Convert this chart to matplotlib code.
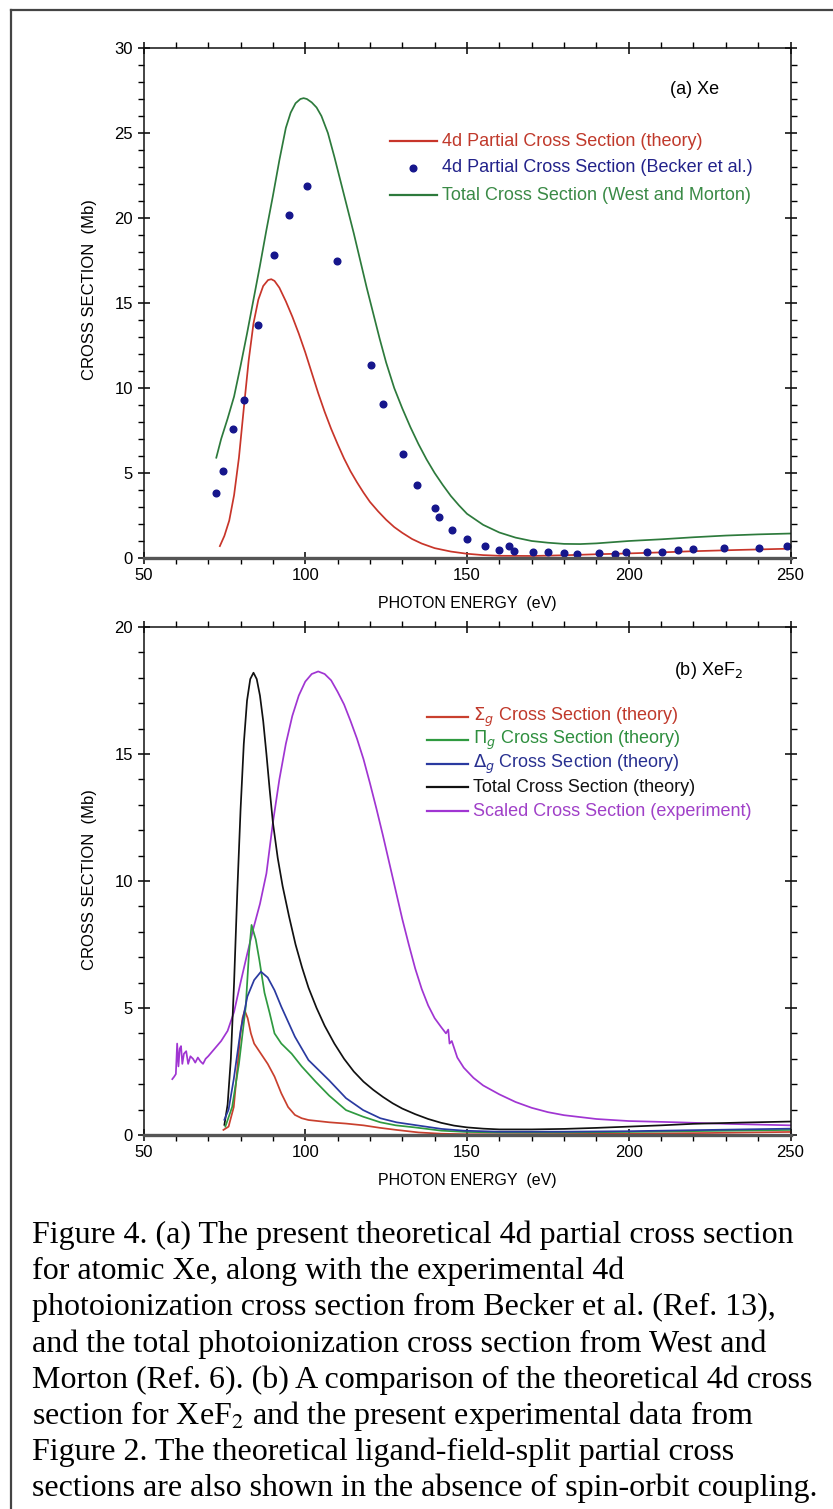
import matplotlib
matplotlib.use("Agg")
import matplotlib.pyplot as plt
from matplotlib.lines import Line2D
from matplotlib.ticker import MultipleLocator
from matplotlib import font_manager

# ---------------- (a) Xe ----------------
xe_theory_E = [73.6, 75.0, 76.5, 78.0, 79.5, 81.0, 82.5, 84.0, 85.5, 87.0, 88.5, 89.5,
               90.5, 92.0, 94.0, 96.0, 98.0, 100.0, 102.0, 104.0, 106.0, 108.0, 110.0,
               112.0, 114.0, 116.0, 118.0, 120.0, 122.5, 125.0, 127.5, 130.0, 133.0,
               136.0, 140.0, 145.0, 150.0, 155.0, 160.0, 170.0, 180.0, 190.0, 200.0,
               210.0, 220.0, 235.0, 250.0]
xe_theory_S = [0.7, 1.3, 2.2, 3.7, 5.9, 8.8, 11.6, 13.8, 15.2, 16.0, 16.35, 16.4,
               16.3, 15.9, 15.1, 14.2, 13.2, 12.1, 10.9, 9.7, 8.6, 7.6, 6.7,
               5.85, 5.1, 4.45, 3.85, 3.3, 2.75, 2.25, 1.82, 1.48, 1.12,
               0.85, 0.58, 0.38, 0.25, 0.17, 0.13, 0.12, 0.16, 0.22, 0.27,
               0.33, 0.4, 0.48, 0.55]

becker_E = [72.5, 74.7, 77.6, 81.0, 85.3, 90.4, 94.9, 100.4, 109.9, 120.2, 124.1,
            130.3, 134.4, 140.0, 141.4, 145.3, 150.0, 155.6, 160.0, 163.1, 164.6,
            170.4, 175.0, 179.9, 184.0, 190.7, 195.6, 199.0, 205.6, 210.4, 215.1,
            220.0, 229.3, 240.3, 249.0]
becker_S = [3.8, 5.1, 7.6, 9.3, 13.7, 17.8, 20.2, 21.9, 17.45, 11.35, 9.07,
            6.1, 4.3, 2.97, 2.4, 1.63, 1.12, 0.71, 0.49, 0.69, 0.41,
            0.33, 0.33, 0.3, 0.22, 0.3, 0.26, 0.33, 0.37, 0.37, 0.49,
            0.53, 0.59, 0.59, 0.71]

west_E = [72.5, 74.0, 76.0, 78.0, 80.0, 82.0, 84.0, 86.0, 88.0, 90.0, 92.0, 94.0,
          95.5, 97.0, 98.5, 99.5, 100.5, 102.0, 103.5, 105.0, 107.0, 109.0, 111.0,
          113.0, 115.0, 117.0, 119.0, 121.0, 123.0, 125.0, 127.5, 130.0, 132.5,
          135.0, 137.5, 140.0, 142.5, 145.0, 147.5, 150.0, 155.0, 160.0, 165.0,
          170.0, 175.0, 180.0, 185.0, 190.0, 195.0, 200.0, 210.0, 220.0, 230.0,
          240.0, 250.0]
west_S = [5.9, 7.0, 8.2, 9.5, 11.3, 13.2, 15.2, 17.2, 19.3, 21.3, 23.4, 25.3,
          26.2, 26.75, 27.0, 27.05, 27.0, 26.8, 26.5, 26.0, 25.0, 23.6, 22.1,
          20.6, 19.1, 17.5, 15.9, 14.4, 12.9, 11.5, 10.0, 8.8, 7.7,
          6.7, 5.8, 5.0, 4.3, 3.65, 3.1, 2.6, 1.95, 1.5, 1.2,
          1.0, 0.9, 0.83, 0.82, 0.86, 0.93, 1.0, 1.1, 1.22, 1.32,
          1.39, 1.44]

# ---------------- (b) XeF2 ----------------
sigma_E = [74.7, 76.3, 77.9, 79.0, 79.8, 80.6, 81.3, 82.2, 83.2, 84.2, 86.3, 88.4,
           90.5, 92.6, 94.7, 96.8, 98.9, 101.0, 107.4, 112.6, 118.0, 123.2, 128.2,
           135.1, 142.1, 150.0, 160.0, 180.0, 200.0, 225.0, 250.0]
sigma_S = [0.2, 0.33, 1.1, 2.6, 3.8, 4.6, 4.9, 4.6, 4.0, 3.6, 3.2, 2.8,
           2.3, 1.64, 1.1, 0.79, 0.66, 0.59, 0.5, 0.45, 0.38, 0.28, 0.2,
           0.1, 0.05, 0.03, 0.03, 0.04, 0.05, 0.08, 0.12]

pi_E = [75.3, 77.4, 79.5, 81.6, 82.6, 83.4, 84.7, 85.8, 87.4, 89.0, 90.5, 92.6,
        95.8, 98.9, 103.2, 107.4, 112.6, 117.9, 123.2, 128.0, 133.8, 142.1, 150.0,
        160.0, 180.0, 200.0, 225.0, 250.0]
pi_S = [0.33, 1.1, 2.8, 5.05, 7.15, 8.27, 7.7, 6.9, 5.6, 4.8, 4.0, 3.6,
        3.2, 2.7, 2.1, 1.55, 0.98, 0.72, 0.5, 0.38, 0.3, 0.17, 0.12,
        0.1, 0.1, 0.12, 0.16, 0.2]

delta_E = [75.0, 76.3, 77.9, 80.0, 82.1, 84.2, 86.3, 88.4, 90.5, 92.6, 96.8, 101.0,
           107.4, 112.6, 117.9, 123.2, 128.2, 135.1, 142.1, 149.0, 160.0, 180.0,
           200.0, 225.0, 250.0]
delta_S = [0.6, 1.0, 2.2, 4.1, 5.45, 6.1, 6.43, 6.2, 5.7, 5.05, 3.87, 2.95,
           2.15, 1.45, 0.98, 0.66, 0.5, 0.37, 0.24, 0.17, 0.13, 0.13,
           0.15, 0.2, 0.25]

total_E = [75.0, 76.0, 77.0, 78.0, 79.0, 80.0, 81.0, 82.0, 83.0, 84.0, 85.0, 86.0,
           87.0, 88.0, 89.0, 90.0, 91.5, 93.0, 95.0, 97.0, 99.0, 101.0, 103.5,
           106.0, 109.0, 112.0, 115.0, 118.0, 121.0, 124.0, 127.0, 130.0, 134.0,
           138.0, 142.0, 146.0, 150.0, 155.0, 160.0, 170.0, 180.0, 190.0, 200.0,
           210.0, 220.0, 235.0, 250.0]
total_S = [0.4, 1.2, 3.0, 6.0, 9.6, 12.8, 15.4, 17.1, 17.95, 18.2, 17.95, 17.3,
           16.3, 15.0, 13.6, 12.3, 10.9, 9.8, 8.6, 7.5, 6.6, 5.8, 5.0,
           4.3, 3.6, 3.0, 2.5, 2.1, 1.78, 1.5, 1.25, 1.04, 0.82,
           0.63, 0.48, 0.37, 0.3, 0.25, 0.22, 0.22, 0.24, 0.28, 0.33,
           0.38, 0.44, 0.49, 0.53]

exp_E = [58.9, 59.5, 60.0, 60.4, 60.8, 61.2, 61.6, 62.0, 62.5, 63.2, 63.8, 64.5,
         65.3, 66.0, 66.8, 67.6, 68.4, 69.2, 70.0, 72.0, 74.0, 76.0, 78.0, 80.0,
         82.0, 84.0, 86.0, 88.0, 90.0, 92.0, 94.0, 96.0, 98.0, 100.0, 102.0, 104.0,
         106.0, 108.0, 110.0, 112.0, 114.0, 116.0, 118.0, 120.0, 122.0, 124.0, 126.0,
         128.0, 130.0, 132.0, 134.0, 136.0, 138.0, 140.0, 142.0, 143.5, 144.2, 144.6,
         145.3, 147.0, 149.0, 152.0, 155.0, 160.0, 165.0, 170.0, 175.0, 180.0, 190.0,
         200.0, 215.0, 230.0, 250.0]
exp_S = [2.2, 2.3, 2.4, 3.6, 2.7, 3.4, 3.5, 2.8, 3.2, 3.3, 2.8, 3.1,
         3.0, 2.85, 3.05, 2.9, 2.8, 3.0, 3.1, 3.4, 3.7, 4.1, 4.85, 6.0,
         7.1, 8.15, 9.1, 10.3, 12.3, 14.0, 15.4, 16.5, 17.3, 17.85, 18.15, 18.25,
         18.15, 17.9, 17.45, 16.95, 16.3, 15.6, 14.8, 13.85, 12.85, 11.8, 10.7,
         9.6, 8.5, 7.5, 6.55, 5.75, 5.1, 4.6, 4.25, 4.0, 4.15, 3.6,
         3.7, 3.05, 2.65, 2.25, 1.95, 1.6, 1.3, 1.07, 0.9, 0.78, 0.63,
         0.55, 0.5, 0.44, 0.38]

caption_lines = [
    "Figure 4. (a) The present theoretical 4d partial cross section",
    "for atomic Xe, along with the experimental 4d",
    "photoionization cross section from Becker et al. (Ref. 13),",
    "and the total photoionization cross section from West and",
    "Morton (Ref. 6). (b) A comparison of the theoretical 4d cross",
    "section for XeF$_2$ and the present experimental data from",
    "Figure 2. The theoretical ligand-field-split partial cross",
    "sections are also shown in the absence of spin-orbit coupling.",
]

# ---------------- figure ----------------
W, H, DPI = 833, 1509, 100
installed = {f.name for f in font_manager.fontManager.ttflist}
if "Liberation Sans Narrow" in installed:
    NARROW, NSIZE = "Liberation Sans Narrow", 13.5
else:
    NARROW, NSIZE = "Liberation Sans", 12
SANS = "Liberation Sans"

fig = plt.figure(figsize=(W / DPI, H / DPI), dpi=DPI)
fig.patch.set_facecolor("white")

# page frame (top and left edges)
fig.add_artist(Line2D([11 / W, 1.0], [1 - 10 / H, 1 - 10 / H], transform=fig.transFigure,
                      color="#444444", lw=1.6))
fig.add_artist(Line2D([11 / W, 11 / W], [1 - 10 / H, 0.0], transform=fig.transFigure,
                      color="#444444", lw=1.6))

AX_L, AX_R = 143.5, 790.5


def px_axes(top, bottom):
    return fig.add_axes([AX_L / W, 1 - bottom / H, (AX_R - AX_L) / W, (bottom - top) / H])


def style(ax, ymax, top, bottom, ylab_center):
    hpx = bottom - top
    ax.set_xlim(50, 250)
    ax.set_ylim(0, ymax)
    ax.xaxis.set_major_locator(MultipleLocator(50))
    ax.xaxis.set_minor_locator(MultipleLocator(10))
    ax.yaxis.set_major_locator(MultipleLocator(5))
    ax.yaxis.set_minor_locator(MultipleLocator(1))
    ax.tick_params(which="major", direction="inout", length=9, width=1.1,
                   top=True, right=True, labelsize=NSIZE, pad=3)
    ax.tick_params(which="minor", direction="out", length=4, width=1.0,
                   top=True, right=True)
    for lab in ax.get_xticklabels() + ax.get_yticklabels():
        lab.set_fontfamily(NARROW)
    for s in ("left", "right", "top"):
        ax.spines[s].set_linewidth(1.1)
        ax.spines[s].set_color("#111111")
    ax.spines["bottom"].set_linewidth(2.4)
    ax.spines["bottom"].set_color("#555555")
    ax.set_xlabel("PHOTON ENERGY  (eV)", fontfamily=NARROW, fontsize=NSIZE - 0.5)
    ax.xaxis.set_label_coords(0.5, -(45 - 7) / hpx)
    ax.set_ylabel("CROSS SECTION  (Mb)", fontfamily=NARROW, fontsize=NSIZE)
    ax.yaxis.set_label_coords(-(AX_L - 90 - 7) / (AX_R - AX_L), (bottom - ylab_center) / hpx)


def frac(px, py, top, bottom):
    return (px - AX_L) / (AX_R - AX_L), (bottom - py) / (bottom - top)


LW = 1.25
LEG_FS = 13

# ---- panel (a) ----
T1, B1 = 48, 558
ax1 = px_axes(T1, B1)
c_red, c_blue, c_green = "#c8352a", "#16168c", "#2d7a3c"
ax1.plot(xe_theory_E, xe_theory_S, color=c_red, lw=LW)
ax1.plot(west_E, west_S, color=c_green, lw=LW)
ax1.plot(becker_E, becker_S, "o", color=c_blue, ms=4.8, mec=c_blue)
style(ax1, 30, T1, B1, 290)

ax1.text(*frac(670, 89, T1, B1), "(a) Xe", transform=ax1.transAxes, fontfamily=SANS,
         fontsize=LEG_FS, va="center", ha="left")

leg1 = [("line", c_red, "#c0392b", "4d Partial Cross Section (theory)"),
        ("dot", c_blue, "#22228a", "4d Partial Cross Section (Becker et al.)"),
        ("line", c_green, "#3a8a46", "Total Cross Section (West and Morton)")]
for (kind, col, tcol, lab), py in zip(leg1, [141, 168, 195]):
    if kind == "line":
        x0, y0 = frac(390, py, T1, B1)
        x1, _ = frac(437, py, T1, B1)
        ax1.plot([x0, x1], [y0, y0], transform=ax1.transAxes, color=col, lw=1.6)
    else:
        x0, y0 = frac(413, py, T1, B1)
        ax1.plot([x0], [y0], "o", transform=ax1.transAxes, color=col, ms=4.8)
    tx, ty = frac(442, py, T1, B1)
    ax1.text(tx, ty, lab, transform=ax1.transAxes, color=tcol, fontfamily=SANS,
             fontsize=LEG_FS, va="center", ha="left")

# ---- panel (b) ----
T2, B2 = 627, 1135
ax2 = px_axes(T2, B2)
c_sig, c_pi, c_del, c_tot, c_exp = "#c9402e", "#2f9a40", "#2a3aa0", "#111111", "#a035d2"
ax2.plot(exp_E, exp_S, color=c_exp, lw=LW)
ax2.plot(total_E, total_S, color=c_tot, lw=LW)
ax2.plot(sigma_E, sigma_S, color=c_sig, lw=LW)
ax2.plot(pi_E, pi_S, color=c_pi, lw=LW)
ax2.plot(delta_E, delta_S, color=c_del, lw=LW)
style(ax2, 20, T2, B2, 880)

ax2.text(*frac(674, 670, T2, B2), "(b) XeF$_2$", transform=ax2.transAxes, fontfamily=SANS,
         fontsize=LEG_FS, va="center", ha="left", math_fontfamily="dejavusans")

leg2 = [(c_sig, "#c0392b", r"$\Sigma_g$ Cross Section (theory)"),
        (c_pi, "#2f8f3f", r"$\Pi_g$ Cross Section (theory)"),
        (c_del, "#283090", r"$\Delta_g$ Cross Section (theory)"),
        (c_tot, "#111111", "Total Cross Section (theory)"),
        (c_exp, "#a040c8", "Scaled Cross Section (experiment)")]
for (col, tcol, lab), py in zip(leg2, [717, 740, 764, 787, 811]):
    x0, y0 = frac(427, py, T2, B2)
    x1, _ = frac(468, py, T2, B2)
    ax2.plot([x0, x1], [y0, y0], transform=ax2.transAxes, color=col, lw=1.6)
    tx, ty = frac(473, py, T2, B2)
    ax2.text(tx, ty, lab, transform=ax2.transAxes, color=tcol, fontfamily=SANS,
             fontsize=LEG_FS, va="center", ha="left", math_fontfamily="dejavusans")

# ---- caption ----
for i, line in enumerate(caption_lines):
    base = 1243 + 36.2 * i
    fig.text(32 / W, 1 - base / H, line, fontfamily="Liberation Serif", fontsize=23,
             va="baseline", ha="left", math_fontfamily="stix")

fig.savefig("out.png", dpi=DPI, facecolor="white")
